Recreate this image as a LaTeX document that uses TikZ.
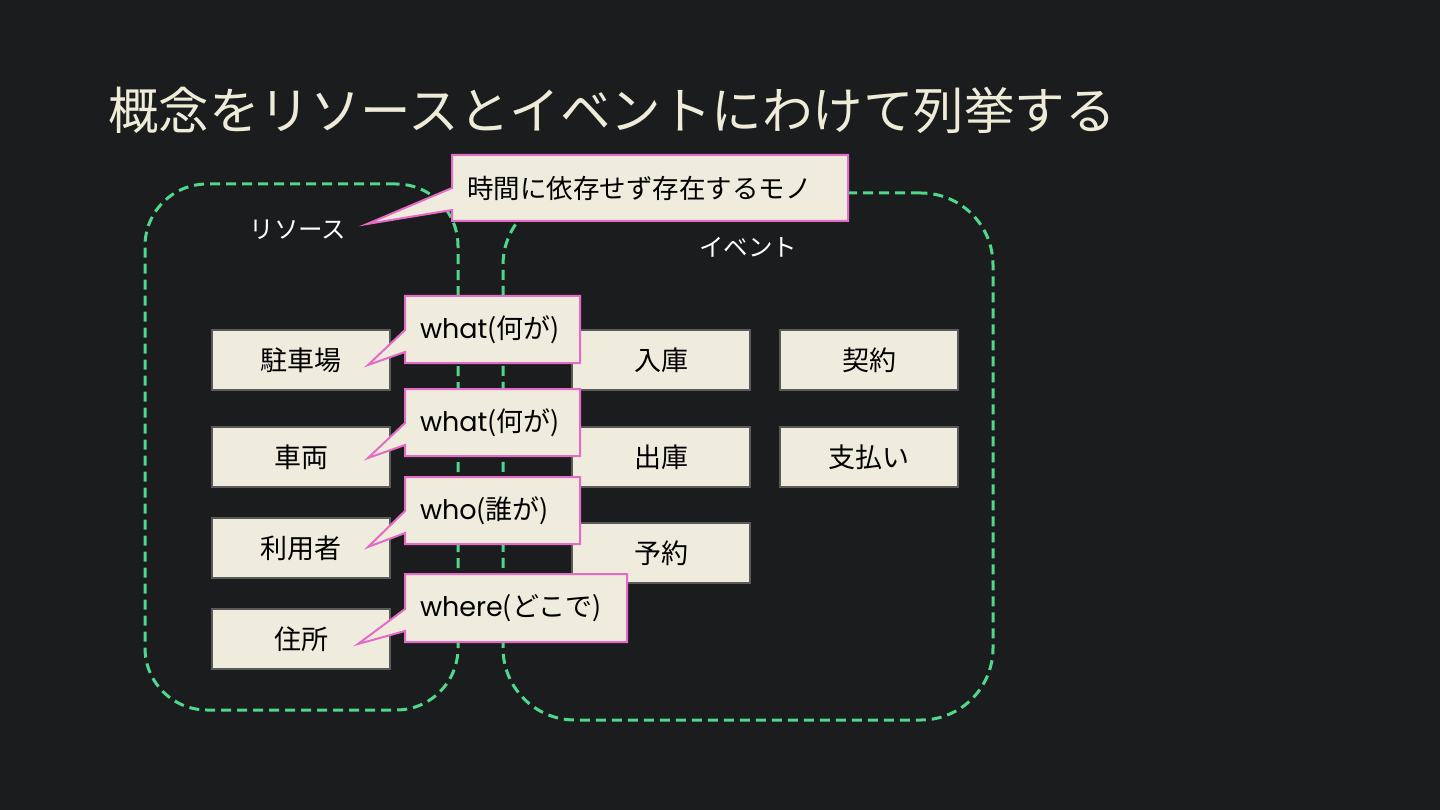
\documentclass[tikz,border=0pt]{standalone}
\usepackage{fontspec}
\setmainfont{Noto Sans CJK JP}
\newfontfamily\latinfont{Poppins}
\usetikzlibrary{shapes.callouts}
\definecolor{bgc}{HTML}{1B1C1E}
\definecolor{cream}{HTML}{EFECDD}
\definecolor{titlec}{HTML}{EEECD8}
\definecolor{edgegray}{HTML}{5A5A5A}
\definecolor{pinkc}{HTML}{E56BC6}
\definecolor{greenc}{HTML}{4FD88A}
\tikzset{
  groupbox/.style={draw=greenc, line width=3pt, dash pattern=on 10pt off 6pt, rounded corners=#1, inner sep=0pt},
  itembox/.style={draw=edgegray, line width=1.5pt, fill=cream, minimum width=178pt, minimum height=60pt, inner sep=0pt, text=black, font=\fontsize{27pt}{30pt}\selectfont},
  grouplabel/.style={text=white, font=\fontsize{24.5pt}{28pt}\selectfont, inner sep=0pt},
  note/.style={rectangle callout, draw=pinkc, line width=2pt, fill=cream, text=black, callout pointer width=22pt, inner xsep=15pt, inner ysep=0pt, align=left, font=\fontsize{27pt}{30pt}\selectfont}
}
\begin{document}
\begin{tikzpicture}[x=1pt,y=-1pt]
\fill[bgc] (0,0) rectangle (1440,810);
\useasboundingbox (0,0) rectangle (1440,810);
% title
\node[anchor=west, text=titlec, font=\fontsize{50.5pt}{60pt}\selectfont, inner sep=0pt] (title) at (108,110) {概念をリソースとイベントにわけて列挙する};
% groups
\node[groupbox=62pt, minimum width=313pt, minimum height=526pt] (resgrp) at (301.5,447) {};
\node[groupbox=72pt, minimum width=490pt, minimum height=527pt] (evgrp) at (748,456.5) {};
\node[grouplabel] (reslbl) at (298,230) {リソース};
\node[grouplabel] (evlbl) at (748,247) {イベント};
% resource items
\node[itembox] (parking) at (301,360) {駐車場};
\node[itembox] (vehicle) at (301,457) {車両};
\node[itembox] (user) at (301,548) {利用者};
\node[itembox] (address) at (301,639) {住所};
% event items
\node[itembox] (entry) at (661,360) {入庫};
\node[itembox] (exit) at (661,457) {出庫};
\node[itembox] (reserve) at (661,553) {予約};
\node[itembox] (contract) at (869,360) {契約};
\node[itembox] (payment) at (869,457) {支払い};
% pointer tips
\coordinate (t0) at (367,224);
\coordinate (t1) at (368,365);
\coordinate (t2) at (368,458);
\coordinate (t3) at (368,547);
\coordinate (t4) at (358,644);
% callouts
\node[note, callout absolute pointer={(t0)}, text width=366pt, minimum height=66pt, font=\fontsize{26.5pt}{30pt}\selectfont] (n0) at (650,188) {時間に依存せず存在するモノ};
\node[note, callout absolute pointer={(t1)}, text width=145pt, minimum height=67pt] (n1) at (492.5,329.5) {{\latinfont what}(何が)};
\node[note, callout absolute pointer={(t2)}, text width=145pt, minimum height=67pt] (n2) at (492.5,422.5) {{\latinfont what}(何が)};
\node[note, callout absolute pointer={(t3)}, text width=145pt, minimum height=67pt] (n3) at (492.5,510.5) {{\latinfont who}(誰が)};
\node[note, callout absolute pointer={(t4)}, text width=192pt, minimum height=68pt] (n4) at (516,608) {{\latinfont where}(どこで)};
\end{tikzpicture}
\end{document}
